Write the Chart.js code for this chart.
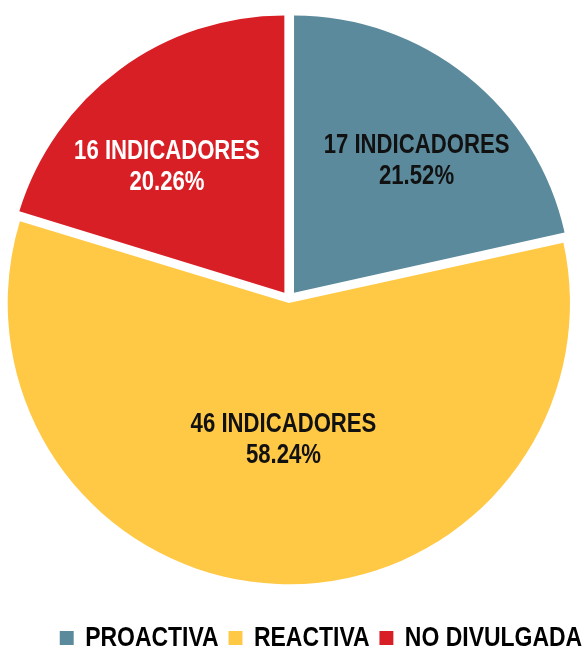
<!DOCTYPE html>
<html>
<head>
  <meta charset="UTF-8">
  <title>Indicadores</title>
  <script src="https://cdn.jsdelivr.net/npm/chart.js"></script>
  <style>
    html, body { margin: 0; padding: 0; background: #fff; overflow: hidden; }
    /* canvas a bit larger than the window so the pie sits where the original has it */
    .wrap { position: absolute; left: -14px; top: -14px; width: 606px; height: 676px; }
  </style>
</head>
<body>
  <div class="wrap"><canvas id="pie"></canvas></div>

  <script>
    const categories = ['PROACTIVA', 'REACTIVA', 'NO DIVULGADA'];
    const counts = [17, 46, 16];
    const percents = ['21.52%', '58.24%', '20.26%'];

    const colors = ['#5b8a9c', '#ffc845', '#d91f26'];
    const labelColors = ['#111', '#111', '#fff'];
    const FONT = "'Liberation Sans', Arial, sans-serif";
    const NARROW = 0.82; // no Arial Narrow here, so squeeze the bold sans

    // where each label sits inside its slice: share of radius, angle shift in degrees
    const labelSpots = [[0.685, 3.5], [0.50, 0], [0.655, -5.8]];

    const sliceLabels = {
      id: 'sliceLabels',
      afterDatasetsDraw(chart) {
        const ctx = chart.ctx;
        const size = 27;
        const capMid = size * 0.358; // half the cap height, baseline to middle of the capitals
        chart.getDatasetMeta(0).data.forEach((arc, i) => {
          const p = arc.getProps(['x', 'y', 'startAngle', 'endAngle', 'outerRadius'], true);
          const [frac, shift] = labelSpots[i];
          const a = (p.startAngle + p.endAngle) / 2 + shift * Math.PI / 180;
          const r = p.outerRadius * frac;
          const cx = p.x + Math.cos(a) * r;
          const cy = p.y + Math.sin(a) * r;
          ctx.save();
          ctx.translate(cx, cy);
          ctx.scale(NARROW, 1);
          ctx.font = 'bold ' + size + 'px ' + FONT;
          ctx.fillStyle = labelColors[i];
          ctx.textAlign = 'center';
          ctx.textBaseline = 'alphabetic';
          ctx.fillText(counts[i] + ' INDICADORES', 0, -15.5 + capMid);
          ctx.fillText(percents[i], 0, 15.5 + capMid);
          ctx.restore();
        });
      }
    };

    // measure the legend as if the text were full width, then draw it squeezed from the right edge
    const narrowLegend = {
      id: 'narrowLegend',
      afterInit(chart) {
        const legend = chart.legend;
        const fit = legend.fit;
        legend.fit = function () {
          const mw = this.maxWidth;
          this.maxWidth = mw / NARROW;
          fit.call(this);
          this.maxWidth = mw;
          this.width = Math.min(this.width, mw);
        };
        legend.draw = function () {
          if (!this.options.display) return;
          const ctx = this.ctx;
          ctx.save();
          ctx.translate(this.right, 0);
          ctx.scale(NARROW, 1);
          ctx.translate(-this.right, 0);
          this._draw(); // skip the box clip, it would cut the squeezed row
          ctx.restore();
        };
      }
    };

    new Chart(document.getElementById('pie'), {
      type: 'pie',
      data: {
        labels: categories,
        datasets: [{
          data: counts,
          backgroundColor: colors,
          borderWidth: 0,
          offset: [32, 16.5, 31]
        }]
      },
      options: {
        responsive: true,
        maintainAspectRatio: false,
        animation: false,
        radius: 277,
        plugins: {
          legend: {
            position: 'bottom',
            align: 'end',
            labels: {
              boxWidth: 17,
              boxHeight: 14,
              padding: 12,
              color: '#000',
              font: { family: FONT, size: 28, weight: 'bold' }
            }
          },
          tooltip: { enabled: false }
        }
      },
      plugins: [sliceLabels, narrowLegend]
    });
  </script>
</body>
</html>
